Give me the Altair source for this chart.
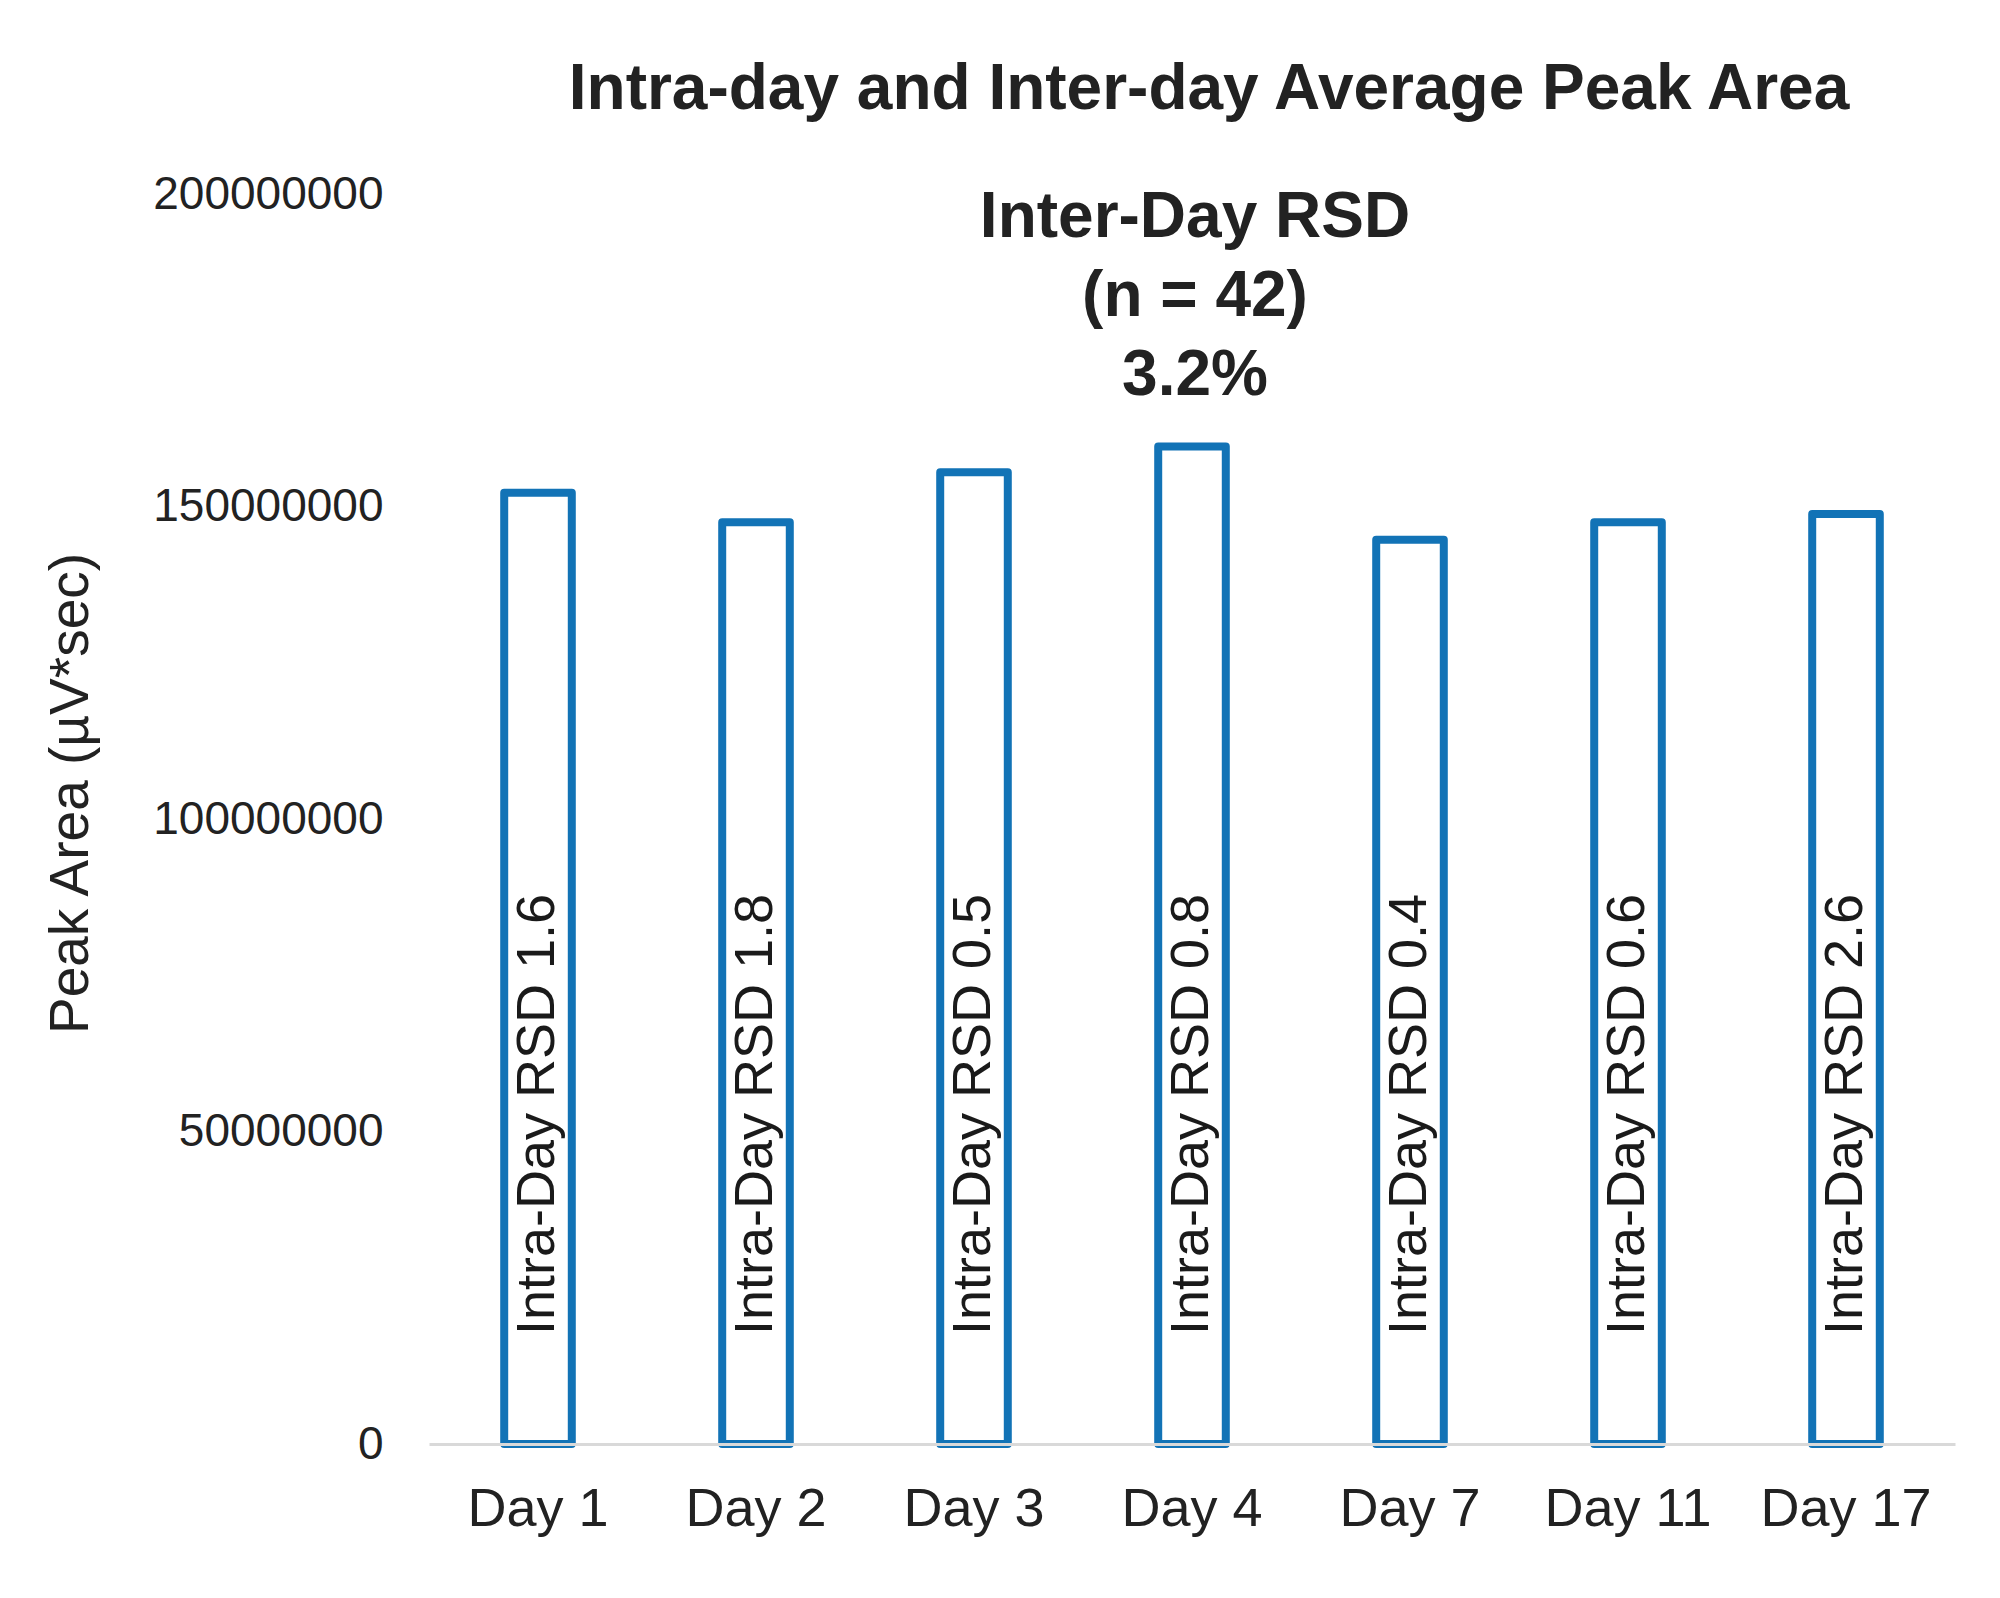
import altair as alt
import pandas as pd

days = ["Day 1", "Day 2", "Day 3", "Day 4", "Day 7", "Day 11", "Day 17"]
peak_area = [152200000, 147500000, 155500000, 159600000, 144700000, 147500000, 148800000]
intra_day_rsd = [1.6, 1.8, 0.5, 0.8, 0.4, 0.6, 2.6]
inter_day_rsd = 3.2
n_total = 42
y_ticks = [0, 50000000, 100000000, 150000000, 200000000]

FONT = "Liberation Sans"
BLUE = "#1273b6"
TXT = "#222222"

df = pd.DataFrame({
    "day": days,
    "area": peak_area,
    "label": [f"Intra-Day RSD {v}" for v in intra_day_rsd],
})
annot = pd.DataFrame({
    "day": [days[3]],
    "text": [f"Inter-Day RSD\n(n = {n_total})\n{inter_day_rsd}%"],
})

y_scale = alt.Scale(domain=[y_ticks[0], y_ticks[-1]], nice=False)
y_axis = alt.Axis(
    values=y_ticks, format="d", grid=False, domain=False, ticks=False, tickSize=0,
    labelFontSize=46, labelFont=FONT, labelColor=TXT, labelPadding=46, labelLimit=1000,
    title="Peak Area (µV*sec)", titleFontSize=55, titleFont=FONT, titleColor=TXT,
    titleFontWeight="normal", titleX=-330, titleY=599, titleAngle=270,
    titleBaseline="bottom", titleAlign="center",
)
x_enc = alt.X(
    "day:N", sort=days,
    scale=alt.Scale(paddingInner=0, paddingOuter=0),
    axis=alt.Axis(
        title=None, labelAngle=0, ticks=False, tickSize=0, grid=False,
        domainColor="#d9d9d9", domainWidth=3, labelFontSize=54, labelFont=FONT,
        labelColor=TXT, labelPadding=38, zindex=1,
    ),
)

bars = alt.Chart(df).mark_bar(
    fill="white", stroke=BLUE, strokeWidth=8, strokeJoin="round",
    width=alt.RelativeBandSize(0.31),
).encode(
    x=x_enc,
    y=alt.Y("area:Q", scale=y_scale, axis=y_axis),
)

labels = alt.Chart(df).mark_text(
    angle=270, align="left", baseline="middle", dx=109,
    fontSize=54, font=FONT, color="#1a1a1a",
).encode(
    x=alt.X("day:N", sort=days),
    y=alt.YDatum(y_ticks[0], type="quantitative"),
    text="label:N",
)

note = alt.Chart(annot).mark_text(
    align="center", baseline="top", dy=-8, dx=3, lineBreak="\n", lineHeight=79,
    fontSize=64, fontWeight="bold", font=FONT, color=TXT,
).encode(
    x=alt.X("day:N", sort=days),
    y=alt.YDatum(y_ticks[-1], type="quantitative"),
    text="text:N",
)

chart = alt.layer(bars, labels, note).properties(
    width=1526, height=1250,
    background="white",
    title=alt.TitleParams(
        "Intra-day and Inter-day Average Peak Area", fontSize=64, fontWeight="bold",
        font=FONT, color=TXT, anchor="middle", offset=49, dx=17,
    ),
    autosize=alt.AutoSizeParams(type="none"),
    padding={"left": 429, "top": 194, "right": 45, "bottom": 154},
).configure_view(strokeWidth=0, stroke="transparent")

chart.save("out.html", embed_options={"renderer": "svg", "actions": False})
